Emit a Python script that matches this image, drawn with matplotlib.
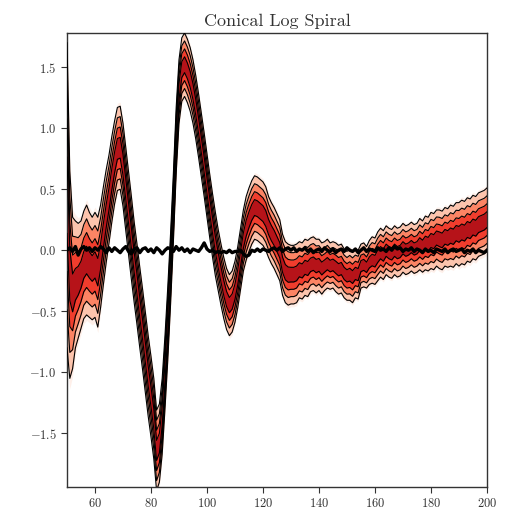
import numpy as np
import matplotlib
matplotlib.use("Agg")
import matplotlib.pyplot as plt

plt.rcParams['font.family'] = 'serif'
plt.rcParams['font.serif'] = ['cmr10', 'DejaVu Serif']
plt.rcParams['mathtext.fontset'] = 'cm'
plt.rcParams['axes.formatter.use_mathtext'] = True

# ---------------- data ----------------
x = np.arange(50, 201)

median = [
    0.45, -0.20, -0.35, -0.28, -0.25, -0.20, -0.12, -0.08, -0.12, -0.15,   # 50-59
    -0.12, -0.18, -0.05, 0.12, 0.28, 0.42, 0.58, 0.72, 0.83, 0.84,         # 60-69
    0.70, 0.50, 0.30, 0.10, -0.10, -0.28, -0.47, -0.65, -0.84, -1.03,      # 70-79
    -1.20, -1.38, -1.64, -1.58, -1.36, -1.00, -0.60, -0.15, 0.35, 0.90,    # 80-89
    1.30, 1.48, 1.52, 1.47, 1.40, 1.30, 1.17, 1.02, 0.86, 0.70,            # 90-99
    0.53, 0.36, 0.20, 0.05, -0.08, -0.20, -0.31, -0.40, -0.45, -0.42,      # 100-109
    -0.34, -0.22, -0.07, 0.08, 0.18, 0.25, 0.31, 0.35, 0.34, 0.32,         # 110-119
    0.30, 0.26, 0.19, 0.14, 0.10, 0.05, 0.00, -0.12, -0.18, -0.20,         # 120-129
    -0.20, -0.20, -0.19, -0.16, -0.17, -0.14, -0.15, -0.12, -0.11, -0.13,  # 130-139
    -0.12, -0.15, -0.13, -0.11, -0.13, -0.12, -0.14, -0.16, -0.15, -0.19,  # 140-149
    -0.21, -0.20, -0.22, -0.19, -0.20, -0.13, -0.12, -0.14, -0.10, -0.08,  # 150-159
    -0.09, -0.05, -0.02, -0.04, 0.00, -0.02, -0.03, 0.00, -0.02, -0.01,    # 160-169
    0.02, 0.00, 0.01, 0.03, 0.01, 0.02, 0.05, 0.03, 0.06, 0.05,            # 170-179
    0.08, 0.07, 0.10, 0.09, 0.08, 0.11, 0.10, 0.12, 0.11, 0.14,            # 180-189
    0.13, 0.15, 0.14, 0.17, 0.16, 0.19, 0.18, 0.21, 0.22, 0.23,            # 190-199
    0.25,                                                                  # 200
]

spread = [
    1.25, 0.85, 0.62, 0.52, 0.47, 0.44, 0.44, 0.45, 0.43, 0.42,            # 50-59
    0.43, 0.45, 0.42, 0.40, 0.38, 0.36, 0.35, 0.34, 0.34, 0.34,            # 60-69
    0.34, 0.34, 0.34, 0.34, 0.33, 0.33, 0.33, 0.33, 0.33, 0.33,            # 70-79
    0.33, 0.33, 0.33, 0.32, 0.31, 0.30, 0.30, 0.29, 0.28, 0.27,            # 80-89
    0.26, 0.26, 0.26, 0.26, 0.26, 0.26, 0.26, 0.26, 0.26, 0.26,            # 90-99
    0.26, 0.26, 0.26, 0.26, 0.25, 0.25, 0.25, 0.25, 0.25, 0.25,            # 100-109
    0.25, 0.25, 0.25, 0.25, 0.26, 0.26, 0.26, 0.26, 0.26, 0.26,            # 110-119
    0.26, 0.26, 0.25, 0.25, 0.25, 0.25, 0.25, 0.25, 0.25, 0.25,            # 120-129
    0.24, 0.24, 0.24, 0.23, 0.23, 0.23, 0.23, 0.22, 0.22, 0.22,            # 130-139
    0.21, 0.21, 0.20, 0.20, 0.19, 0.19, 0.20, 0.20, 0.20, 0.20,            # 140-149
    0.20, 0.21, 0.21, 0.20, 0.20, 0.18, 0.18, 0.17, 0.18, 0.19,            # 150-159
    0.19, 0.20, 0.20, 0.20, 0.20, 0.20, 0.20, 0.20, 0.20, 0.20,            # 160-169
    0.20, 0.20, 0.20, 0.20, 0.20, 0.20, 0.21, 0.21, 0.22, 0.22,            # 170-179
    0.23, 0.23, 0.23, 0.24, 0.24, 0.24, 0.24, 0.25, 0.25, 0.25,            # 180-189
    0.26, 0.26, 0.26, 0.26, 0.26, 0.26, 0.26, 0.26, 0.26, 0.26,            # 190-199
    0.26,                                                                  # 200
]

reference = [
    0.00, 0.02, -0.01, 0.03, -0.04, 0.01, 0.03, 0.00, 0.02, -0.01,         # 50-59
    0.02, 0.00, 0.03, 0.01, -0.02, 0.02, -0.01, 0.02, 0.00, -0.02,         # 60-69
    0.01, 0.03, -0.01, -0.03, 0.01, 0.02, -0.02, 0.01, 0.02, -0.01,        # 70-79
    0.01, -0.02, 0.02, 0.00, -0.03, 0.00, 0.02, 0.01, -0.01, 0.03,         # 80-89
    0.00, 0.02, -0.01, 0.01, -0.02, 0.01, 0.00, -0.01, 0.02, 0.06,         # 90-99
    0.01, -0.01, 0.00, -0.02, -0.01, -0.02, -0.01, -0.02, 0.00, -0.02,     # 100-109
    -0.01, -0.01, 0.00, -0.03, -0.05, -0.04, 0.00, -0.01, 0.01, -0.01,     # 110-119
    0.01, 0.00, -0.01, 0.01, 0.02, 0.00, 0.02, -0.01, 0.01, 0.02,          # 120-129
    0.00, 0.02, -0.01, 0.01, 0.00, 0.02, -0.01, 0.01, -0.02, 0.00,         # 130-139
    0.01, -0.01, 0.02, 0.00, -0.01, 0.01, -0.02, 0.00, 0.01, -0.01,        # 140-149
    0.02, 0.00, -0.01, 0.01, -0.02, 0.00, 0.02, -0.01, 0.01, 0.00,         # 150-159
    -0.01, 0.02, 0.00, 0.01, -0.01, 0.02, 0.00, 0.03, 0.01, 0.02,          # 160-169
    -0.01, 0.01, 0.00, 0.02, -0.01, 0.01, 0.00, -0.02, 0.01, -0.01,        # 170-179
    0.00, -0.02, 0.01, 0.00, -0.01, 0.01, -0.02, 0.00, 0.01, -0.01,        # 180-189
    0.00, 0.01, -0.02, 0.00, -0.01, 0.01, -0.02, 0.00, -0.01, -0.02,       # 190-199
    0.00,                                                                  # 200
]

band_levels = [1.0, 0.75, 0.5, 0.25]          # fraction of the outer spread
band_shades = [0.22, 0.42, 0.62, 0.82]        # position in the Reds colormap

title = "Conical Log Spiral"
xticks = [60, 80, 100, 120, 140, 160, 180, 200]
yticks = [-1.5, -1.0, -0.5, 0.0, 0.5, 1.0, 1.5]

# ---------------- plot ----------------
med = np.array(median)
w = np.array(spread)

fig = plt.figure(figsize=(5.21, 5.13), dpi=100)
ax = fig.add_axes([0.1286, 0.0507, 0.806, 0.885])

cmap = matplotlib.colormaps['Reds']
# faint halo
ax.fill_between(x, med - 1.1 * w, med + 1.1 * w, color=cmap(0.12), alpha=0.5,
                linewidth=0, zorder=1)
for lev, sh in zip(band_levels, band_shades):
    ax.fill_between(x, med - lev * w, med + lev * w, color=cmap(sh),
                    linewidth=0, zorder=2)
for lev in band_levels:
    ax.plot(x, med + lev * w, color='black', lw=0.8, zorder=3)
    ax.plot(x, med - lev * w, color='black', lw=0.8, zorder=3)

ax.plot(x, reference, color='black', lw=2.4, zorder=4)

ax.set_xlim(50, 200)
ax.set_ylim(-1.94, 1.78)
ax.set_xticks(xticks)
ax.set_yticks(yticks)
ax.tick_params(labelsize=9, length=4, width=0.8, colors='#333333')
for s in ax.spines.values():
    s.set_color('#333333')
    s.set_linewidth(1.0)
ax.set_title(title, fontsize=13, color='#333333', pad=5)

fig.savefig("out.png", dpi=100)
